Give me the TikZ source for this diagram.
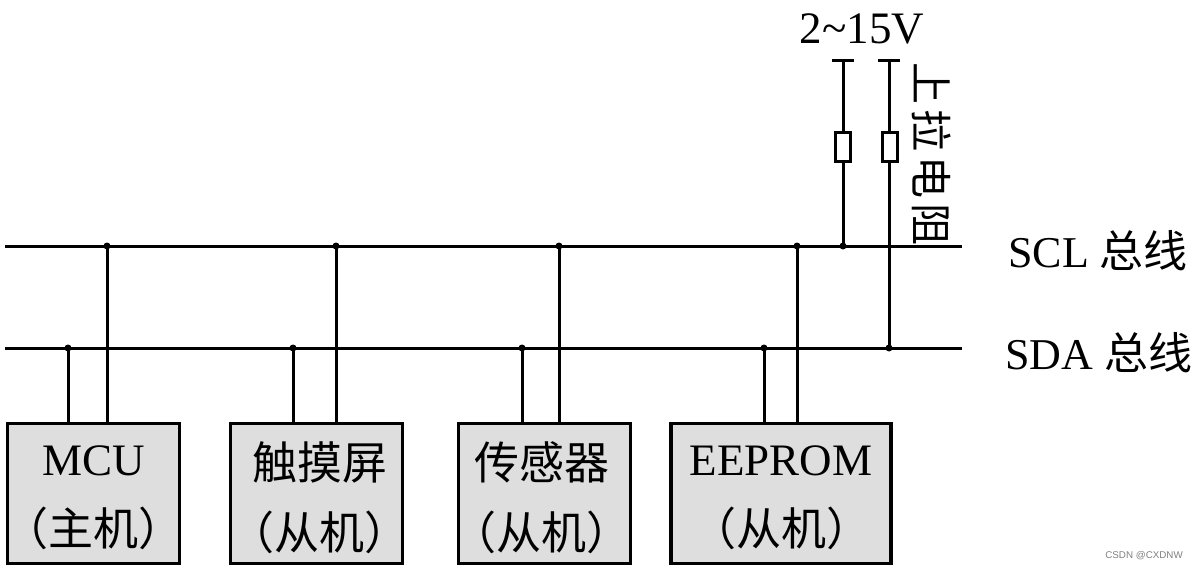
\documentclass[tikz,border=0pt]{standalone}
\usepackage{fontspec}
\usepackage{xcolor}
\setmainfont{Liberation Serif}
\setsansfont{Liberation Sans}
\newfontfamily\cjk{Noto Sans CJK SC}
\usetikzlibrary{positioning}
\usetikzlibrary{calc}
\definecolor{boxgray}{HTML}{DEDEDE}
\tikzset{
  wire/.style={black, line width=3pt},
  unitbox/.style={draw=black, line width=3.2pt, fill=boxgray, inner sep=0pt, minimum width=172.5pt, minimum height=140pt},
  unittext/.style={inner sep=0pt, align=center, font=\fontsize{45}{70}\selectfont},
  resbox/.style={draw=black, line width=3pt, fill=white, inner sep=0pt, minimum width=15pt, minimum height=29pt},
  buslabel/.style={anchor=west, inner sep=0pt, font=\fontsize{44}{50}\selectfont},
  joint/.style={fill=black, circle, inner sep=0pt, minimum size=7pt}
}
\begin{document}
\begin{tikzpicture}[x=1pt, y=-1pt]
    \useasboundingbox (0,0) rectangle (1196,570);

    % bus lines
    \coordinate (sclleft) at (5,246);
    \coordinate (sclright) at (962,246);
    \coordinate (sdaleft) at (5,348);
    \coordinate (sdaright) at (962,348);
    \draw[wire] (sclleft) -- (sclright);
    \draw[wire] (sdaleft) -- (sdaright);
    \node[buslabel] (scllabel) at (1008,251) {SCL {\cjk 总线}};
    \node[buslabel] (sdalabel) at (1005,353) {SDA {\cjk 总线}};

    % the four units
    \node[unitbox] (mcu) at (93.5,493.5) {};
    \node[unitbox] (touch) at (316.5,493.5) {};
    \node[unitbox] (sensor) at (544.5,493.5) {};
    \node[unitbox, minimum width=220pt] (eeprom) at (781,493.5) {};
    \node[unittext] (mcutext) at ([yshift=-4pt]mcu.center) {MCU\\{\cjk （主机）}};
    \node[unittext] (touchtext) at ([xshift=3pt, yshift=-4pt]touch.center) {{\cjk 触摸屏}\\{\cjk （从机）}};
    \node[unittext] (sensortext) at ([xshift=-3pt, yshift=-4pt]sensor.center) {{\cjk 传感器}\\{\cjk （从机）}};
    \node[unittext] (eepromtext) at ([yshift=-4pt]eeprom.center) {EEPROM\\{\cjk （从机）}};

    \foreach \name/\sda/\scl in { mcu/68/107,touch/293/336,sensor/522/559,eeprom/764/797 } {
        \node[joint] (\name sda) at (\sda,348) {};
        \node[joint] (\name scl) at (\scl,246) {};
        \draw[wire] (\name sda.center) -- (\name sda.center |- \name.north);
        \draw[wire] (\name scl.center) -- (\name scl.center |- \name.north);
    }

    % pull-up resistors
    \node[resbox] (resa) at (843,147) {};
    \node[resbox] (resb) at (890,147) {};
    \node[joint] (resascl) at (843,246) {};
    \node[joint] (resbsda) at (889,348) {};
    \coordinate (vcca) at (843,60);
    \coordinate (vccb) at (889,60);
    \draw[wire] (vcca) -- (resa.north);
    \draw[wire] (resa.south) -- (resascl.center);
    \draw[wire] (vccb) -- (vccb |- resb.north);
    \draw[wire] (vccb |- resb.south) -- (resbsda.center);
    \draw[wire] ([xshift=-11pt]vcca) -- ([xshift=11pt]vcca);
    \draw[wire] ([xshift=-11pt]vccb) -- ([xshift=11pt]vccb);
    \node[inner sep=0pt, font=\fontsize{45}{50}\selectfont] (vcclabel) at (862,29) {2\char"7E 15V};
    \node[rotate=-90, inner sep=0pt, font=\fontsize{42}{50}\selectfont] (reslabel) at (931.5,154) {\cjk 上\hspace{5pt}拉\hspace{5pt}电\hspace{5pt}阻};

    \node[anchor=east, inner sep=0pt, text=gray, font=\sffamily\fontsize{9.8}{12}\selectfont] (mark) at (1183,556) {CSDN @CXDNW};
\end{tikzpicture}
\end{document}
